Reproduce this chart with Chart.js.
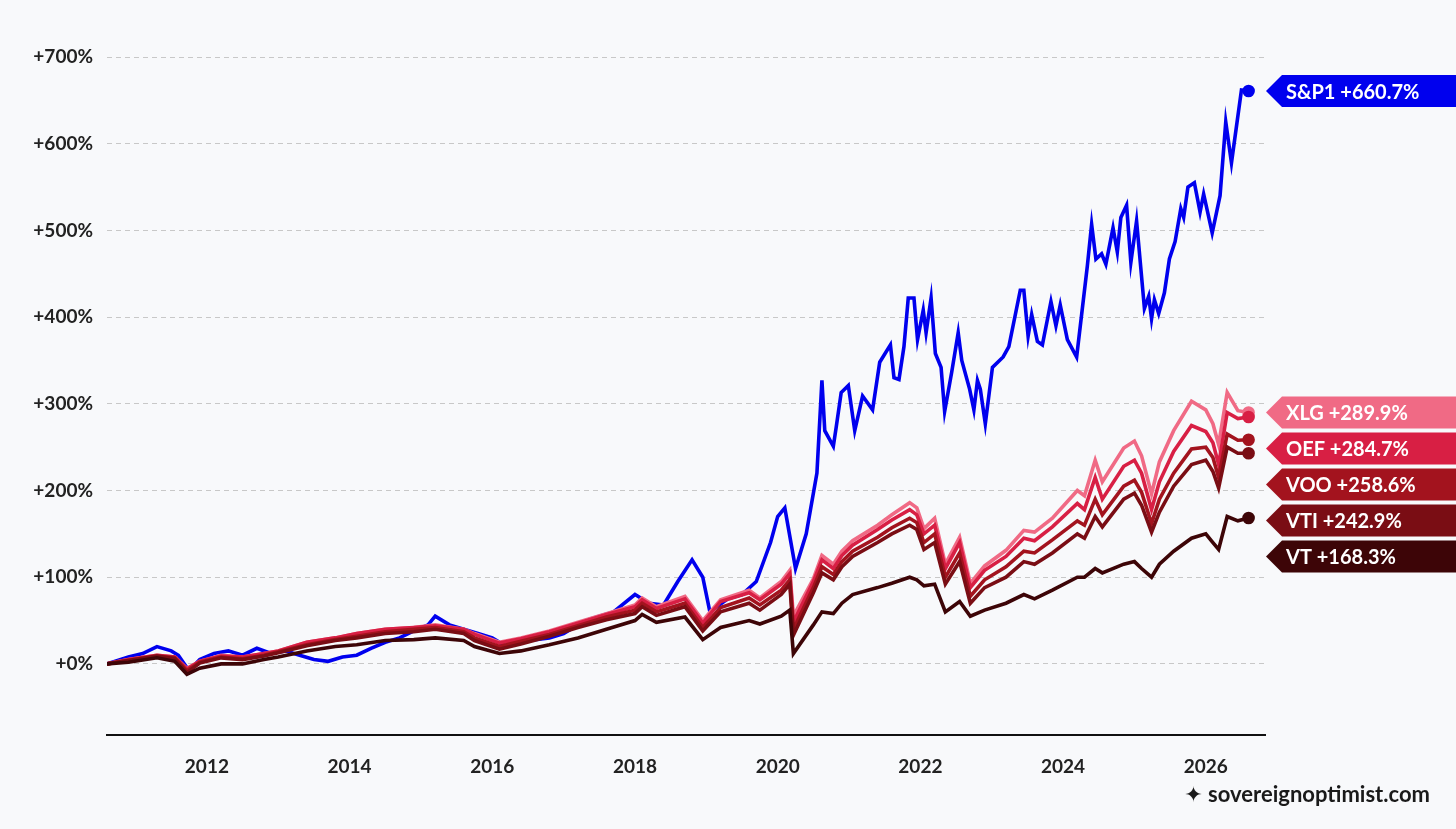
<!DOCTYPE html>
<html><head><meta charset="utf-8">
<script src="https://cdn.jsdelivr.net/npm/chart.js@4"></script>
<style>html,body{margin:0;padding:0;background:#f8f9fb;}#wrap{width:1456px;height:829px;position:relative;}
#wm{position:absolute;right:26px;top:780px;font:700 22px Lato,"DejaVu Sans",sans-serif;color:#1a1a1a;}</style>
</head><body><div id="wrap"><canvas id="c" width="1456" height="829"></canvas><div id="wm"><span style="font-family:'DejaVu Sans'">✦</span> sovereignoptimist.com</div></div>
<script>
const spDates=[2010.6,2010.9,2011.1,2011.3,2011.5,2011.6,2011.75,2011.9,2012.1,2012.3,2012.5,2012.7,2012.9,2013.1,2013.3,2013.5,2013.7,2013.9,2014.1,2014.3,2014.5,2014.7,2014.9,2015.1,2015.2,2015.4,2015.6,2015.8,2016.0,2016.2,2016.4,2016.6,2016.8,2017.0,2017.3,2017.5,2017.7,2018.0,2018.2,2018.4,2018.6,2018.8,2018.95,2019.05,2019.3,2019.5,2019.7,2019.9,2020.0,2020.1,2020.25,2020.4,2020.55,2020.62,2020.66,2020.78,2020.82,2020.89,2020.99,2021.08,2021.19,2021.33,2021.43,2021.58,2021.63,2021.7,2021.77,2021.83,2021.91,2021.96,2022.04,2022.08,2022.15,2022.21,2022.29,2022.34,2022.44,2022.53,2022.58,2022.69,2022.75,2022.8,2022.84,2022.91,2023.01,2023.16,2023.24,2023.4,2023.45,2023.51,2023.56,2023.64,2023.71,2023.83,2023.9,2023.96,2024.06,2024.19,2024.34,2024.4,2024.46,2024.54,2024.6,2024.7,2024.76,2024.81,2024.89,2024.95,2025.03,2025.14,2025.2,2025.24,2025.28,2025.34,2025.42,2025.49,2025.57,2025.65,2025.69,2025.75,2025.84,2025.92,2025.97,2026.09,2026.2,2026.28,2026.36,2026.5,2026.6];
const spValues=[0,8,12,20,15,10,-8,5,12,15,10,18,12,15,10,5,3,8,10,18,25,30,38,45,55,45,40,35,30,20,25,28,30,35,50,55,60,80,70,68,95,120,100,60,75,80,95,140,170,180,110,150,220,327,269,251,273,313,321,269,309,293,348,368,330,328,366,422,422,374,408,382,422,358,342,291,337,382,350,317,293,327,317,277,342,354,366,431,431,378,403,372,368,418,390,414,374,354,459,507,467,473,461,503,475,515,529,463,511,410,424,398,420,404,428,467,487,525,515,550,555,521,542,497,540,625,578,662,660.7];
const etfDates=[2010.6,2010.9,2011.3,2011.55,2011.72,2011.9,2012.2,2012.5,2012.8,2013.0,2013.4,2013.8,2014.1,2014.5,2014.9,2015.2,2015.6,2015.75,2016.1,2016.4,2016.8,2017.2,2017.6,2018.0,2018.1,2018.3,2018.7,2018.95,2019.2,2019.6,2019.75,2020.05,2020.17,2020.22,2020.5,2020.62,2020.78,2020.9,2021.05,2021.4,2021.6,2021.85,2021.95,2022.05,2022.2,2022.35,2022.55,2022.7,2022.9,2023.2,2023.45,2023.6,2023.85,2024.2,2024.3,2024.45,2024.55,2024.85,2025.0,2025.1,2025.24,2025.35,2025.55,2025.8,2026.0,2026.1,2026.18,2026.3,2026.45,2026.6];
const xlgValues=[0,5,10,8,-5,3,10,8,12,15,25,30,35,40,42,45,40,35,25,30,38,48,58,68,76,66,78,50,74,85,76,95,108,55,98,125,115,130,142,160,172,186,180,156,168,115,146,93,113,131,154,152,168,200,194,235,210,249,257,240,196,233,269,303,293,277,253,313,292,289.9];
const oefValues=[0,5,10,8,-6,3,9,8,12,15,25,30,35,40,42,44,40,34,24,29,37,47,57,66,74,64,75,47,72,82,74,92,104,48,95,120,110,125,137,155,166,178,172,150,160,110,140,88,108,124,145,142,158,185,178,215,190,228,235,220,178,210,245,275,268,255,230,290,283,284.7];
const vooValues=[0,4,9,7,-8,2,8,6,10,14,22,28,32,37,40,42,37,30,20,26,34,44,54,62,70,60,70,42,65,76,68,85,97,40,88,112,103,118,130,146,157,168,163,140,150,100,128,78,97,112,130,128,143,165,160,190,172,205,212,198,162,190,220,248,250,238,215,265,258,258.6];
const vtiValues=[0,4,9,6,-10,1,7,5,9,13,21,27,30,35,37,40,35,27,17,23,32,42,51,58,66,56,66,38,60,70,62,80,92,33,82,105,97,112,124,140,150,160,155,132,140,92,118,70,88,100,118,115,128,150,145,170,158,190,197,183,152,175,205,230,235,222,203,250,243,242.9];
const vtValues=[0,2,7,3,-12,-5,0,0,5,8,15,20,22,27,28,30,27,20,12,15,22,30,40,50,57,48,54,28,42,50,46,55,62,12,45,60,58,70,80,88,93,100,97,90,92,60,72,55,62,70,80,75,85,100,100,110,105,115,118,110,100,115,130,145,150,140,132,170,165,168.3];
const yTicks=[0,100,200,300,400,500,600,700];

const mk=(label,dates,vals,color)=>({label,data:dates.map((d,i)=>({x:d,y:vals[i]})),borderColor:color,backgroundColor:color,borderWidth:3.6,tension:0,
  pointRadius:c=>c.dataIndex===vals.length-1?4.5:0,pointHoverRadius:0});
const datasets=[mk('VT',etfDates,vtValues,'#3d0507'),mk('VTI',etfDates,vtiValues,'#7a0d14'),mk('VOO',etfDates,vooValues,'#a3131e'),
  mk('OEF',etfDates,oefValues,'#d81f44'),mk('XLG',etfDates,xlgValues,'#f06a85'),mk('S&P1',spDates,spValues,'#0000ee')];

const tags={id:'tags',afterDatasetsDraw(ch){
  const c=ch.ctx,ys=ch.scales.y;let items=ch.data.datasets.map(d=>{const v=d.data[d.data.length-1].y;return{t:d.label+' +'+v.toFixed(1)+'%',y:ys.getPixelForValue(v),col:d.borderColor};});
  items.sort((a,b)=>a.y-b.y);for(let i=1;i<items.length;i++){if(items[i].y<items[i-1].y+36)items[i].y=items[i-1].y+36;}
  c.save();c.font='700 20px Lato, sans-serif';c.textBaseline='middle';
  items.forEach(it=>{const x0=1266,x1=1282,h=32,xr=1456;
    c.fillStyle=it.col;c.beginPath();c.moveTo(x0,it.y);c.lineTo(x1,it.y-h/2);c.lineTo(xr,it.y-h/2);c.lineTo(xr,it.y+h/2);c.lineTo(x1,it.y+h/2);c.closePath();c.fill();
    c.fillStyle='#fff';c.fillText(it.t,x1+4,it.y+1);});
  c.restore();}};

new Chart(document.getElementById('c'),{type:'line',data:{datasets},plugins:[tags],
options:{responsive:false,animation:false,events:[],layout:{padding:{top:57,right:191,bottom:0,left:0}},
plugins:{legend:{display:false},tooltip:{enabled:false}},
scales:{
 x:{type:'linear',min:2010.6,max:2026.83,grid:{display:false},border:{display:true,color:'#111',width:2},
   afterBuildTicks:s=>{s.ticks=[2012,2014,2016,2018,2020,2022,2024,2026].map(v=>({value:v}));},
   afterFit:s=>{s.height=94;},
   ticks:{color:'#222',font:{family:'Lato',size:19,weight:'700'},padding:12,autoSkip:false,maxRotation:0,callback:v=>String(v)}},
 y:{min:-82,max:700,afterBuildTicks:s=>{s.ticks=yTicks.map(v=>({value:v}));},afterFit:s=>{s.width=107;},
   border:{display:false,dash:[5,4]},grid:{color:'#c8c8c8',drawTicks:false},
   ticks:{color:'#222',font:{family:'Lato',size:19,weight:'700'},padding:14,callback:v=>'+'+v+'%'}}}}});
</script></body></html>
